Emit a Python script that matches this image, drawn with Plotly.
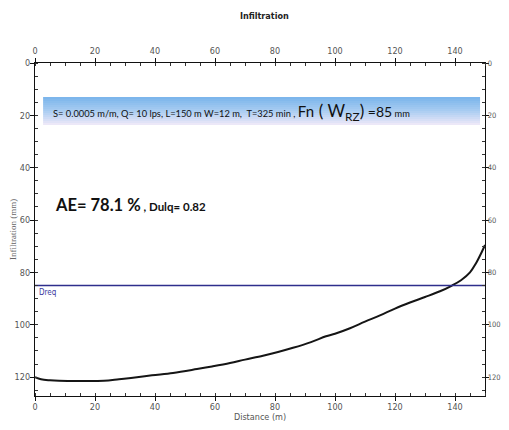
import plotly.graph_objects as go

# Data
distance = [0, 2, 5, 8, 15, 23, 28, 32, 39, 46, 54, 59, 65, 70, 76, 81, 86, 92, 97,
            100, 105, 110, 115, 120, 125, 130, 135, 139, 142, 145, 147, 149, 150]
infiltration = [120.0, 120.8, 121.2, 121.4, 121.5, 121.4, 120.8, 120.3, 119.3, 118.4,
                116.9, 115.9, 114.6, 113.3, 111.8, 110.4, 108.8, 106.6, 104.4,
                103.4, 101.3, 98.8, 96.4, 93.8, 91.5, 89.4, 87.2, 85.0, 83.0, 80.0,
                76.5, 72.0, 69.5]
dreq_value = 85
x_range = [0, 150]
y_range = [127.2, 0]

TICKFONT = "Liberation Sans Narrow, DejaVu Sans Condensed, Liberation Sans, sans-serif"
TEXTFONT = "Lato, Noto Sans, sans-serif"

fig = go.Figure()
fig.add_trace(go.Scatter(x=distance, y=infiltration, mode="lines",
                         line=dict(color="#151515", width=2), line_shape="spline",
                         showlegend=False, hoverinfo="skip"))
fig.add_trace(go.Scatter(x=x_range, y=[dreq_value, dreq_value], mode="lines",
                         line=dict(color="#2e2e8c", width=1.6),
                         showlegend=False, hoverinfo="skip"))
# invisible trace to activate top / right axes
fig.add_trace(go.Scatter(x=x_range, y=[dreq_value, dreq_value], xaxis="x2", yaxis="y2",
                         mode="lines", line=dict(width=0), showlegend=False, hoverinfo="skip"))


def axis_style(size=9, standoff=None, ticklen=4):
    d = dict(showgrid=False, zeroline=False, showline=True, linecolor="#111",
             linewidth=1.3, ticks="outside", ticklen=ticklen, tickwidth=1.3, tickcolor="#111",
             automargin=False, ticklabeloverflow="allow",
             tickfont=dict(family=TICKFONT, size=size, color="#555"),
             minor=dict(ticks="inside", ticklen=3, tickwidth=1, tickcolor="#333", dtick=5))
    if standoff is not None:
        d["ticklabelstandoff"] = standoff
    return d


# the page body has an 8px margin: size the figure so nothing overflows the window
fig.update_layout(
    width=493, height=414,
    margin=dict(l=27, r=16, t=55, b=26),
    plot_bgcolor="white", paper_bgcolor="white",
    xaxis=dict(range=x_range, dtick=20, **axis_style(size=9, standoff=-2),
               title=dict(text="Distance (m)", font=dict(family=TICKFONT, size=9, color="#555"),
                           standoff=1)),
    xaxis2=dict(range=x_range, dtick=20, overlaying="x", side="top", **axis_style()),
    yaxis=dict(range=y_range, dtick=20, **axis_style(standoff=-2),
               title=dict(text="Infiltration (mm)",
                          font=dict(family="Liberation Serif, serif", size=9, color="#666"),
                          standoff=0)),
    yaxis2=dict(range=y_range, dtick=20, overlaying="y", side="right",
                **axis_style(size=7.5, standoff=-3, ticklen=3)),
    title=dict(text="<b>Infiltration</b>", x=0.52, xanchor="center", y=0.981, yanchor="middle",
               font=dict(family=TICKFONT, size=9, color="#222")),
)

# gradient banner (paper coordinates)
x0, x1 = 0.018, 0.989
ytop, ybot = 0.898, 0.814
n = 14
stops = [(0.0, (125, 182, 236)), (0.5, (170, 205, 242)), (1.0, (236, 232, 248))]


def col(t):
    for (t0, c0), (t1, c1) in zip(stops[:-1], stops[1:]):
        if t <= t1:
            f = (t - t0) / (t1 - t0)
            return tuple(int(c0[k] + (c1[k] - c0[k]) * f) for k in range(3))
    return stops[-1][1]


for i in range(n):
    c = col(i / (n - 1))
    ya = ytop - (ytop - ybot) * i / n
    yb = ytop - (ytop - ybot) * (i + 1) / n
    fig.add_shape(type="rect", xref="paper", yref="paper", x0=x0, x1=x1, y0=yb, y1=ya,
                  fillcolor="rgb(%d,%d,%d)" % c, line=dict(width=0), layer="below")

banner = ("S= 0.0005 m/m, Q= 10 lps, L=150 m W=12 m,  T=325 min , "
          "<span style='font-size:15px'>Fn</span>  "
          "<span style='font-size:17px'>( W<sub>RZ</sub>)</span>"
          "<span style='font-size:14px'> =85</span> mm")
fig.add_annotation(xref="paper", yref="paper", x=0.035, y=0.852, xanchor="left", yanchor="middle",
                   text=banner, showarrow=False,
                   font=dict(family=TEXTFONT, size=9.3, color="#111"))

fig.add_annotation(xref="paper", yref="paper", x=0.04, y=0.574, xanchor="left", yanchor="middle",
                   text="<b>AE= 78.1 %</b><b><span style='font-size:11.5px'> , Dulq= 0.82</span></b>",
                   showarrow=False, font=dict(family=TEXTFONT, size=16.5, color="#111"))

fig.add_annotation(xref="paper", y=dreq_value, yref="y", x=0.005, xanchor="left", yanchor="top",
                   text="Dreq", showarrow=False,
                   font=dict(family=TICKFONT, size=8, color="#3a3aa0"))

fig.write_html("out.html")
